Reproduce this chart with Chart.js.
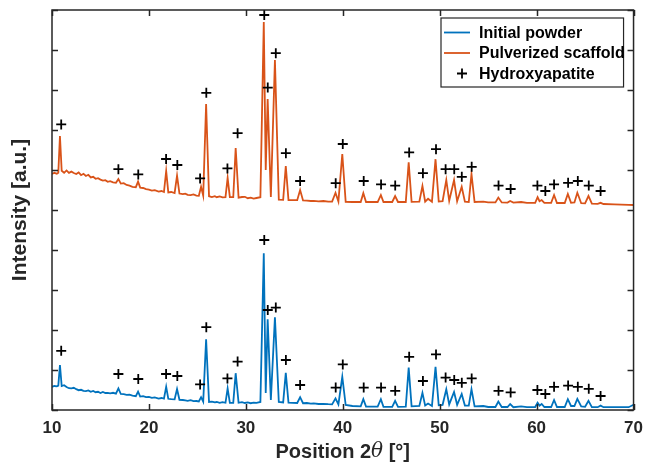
<!DOCTYPE html>
<html>
<head>
<meta charset="utf-8">
<script src="https://cdn.jsdelivr.net/npm/chart.js@4.4.1/dist/chart.umd.min.js"></script>
<style>
  html, body { margin: 0; padding: 0; background: #fff; }
  canvas { display: block; }
</style>
</head>
<body>
<canvas id="xrdChart" width="651" height="464"></canvas>
<script>
  // 2-theta positions (deg) shared by both patterns
  const twoTheta = [
    10.0, 10.25, 10.5, 10.65, 10.82, 11.0, 11.25, 11.5, 11.75, 12.0,
    12.25, 12.5, 12.75, 13.0, 13.25, 13.5, 13.75, 14.0, 14.25, 14.5,
    14.75, 15.0, 15.25, 15.5, 15.75, 16.0, 16.3, 16.6, 16.85, 17.1,
    17.4, 17.7, 18.0, 18.3, 18.65, 18.88, 19.1, 19.4, 19.7, 20.0,
    20.3, 20.6, 21.0, 21.3, 21.55, 21.78, 22.0, 22.3, 22.65, 22.9,
    23.15, 23.5, 23.75, 24.0, 24.3, 24.6, 24.9, 25.15, 25.38, 25.6,
    25.9, 26.2, 26.5, 26.8, 27.0, 27.3, 27.6, 27.9, 28.12, 28.35,
    28.7, 28.95, 29.25, 29.6, 29.9, 30.2, 30.5, 30.8, 31.1, 31.5,
    31.85, 32.05, 32.25, 32.58, 33.0, 33.4, 33.85, 34.12, 34.4, 35.3,
    35.6, 35.9, 36.3, 36.7, 37.0, 37.5, 38.0, 38.5, 38.9, 39.25,
    39.55, 39.95, 40.3, 41.0, 41.85, 42.12, 42.4, 43.6, 43.93, 44.2,
    45.1, 45.4, 45.7, 46.5, 46.8, 47.1, 47.9, 48.22, 48.5, 48.8,
    49.2, 49.57, 49.9, 50.3, 50.68, 50.98, 51.48, 51.8, 52.27, 52.6,
    53.0, 53.28, 53.6, 54.5, 55.0, 55.75, 56.05, 56.4, 57.0, 57.27,
    57.6, 58.4, 59.0, 59.85, 60.1, 60.3, 60.52, 60.8, 61.5, 61.8,
    62.1, 62.9, 63.22, 63.55, 63.9, 64.2, 64.6, 65.0, 65.35, 65.7,
    66.3, 66.6, 66.9, 68.0, 69.5, 70.0
  ];

  // Initial powder (blue)
  const initialPowder = [
    580, 600, 590, 610, 1125, 600, 620, 575, 545, 540,
    555, 520, 495, 505, 480, 470, 490, 455, 475, 445,
    455, 425, 450, 425, 430, 415, 430, 410, 540, 400,
    395, 380, 385, 360, 345, 460, 335, 345, 320, 325,
    305, 315, 285, 300, 285, 580, 280, 270, 265, 525,
    255, 250, 240, 230, 245, 220, 225, 215, 320, 210,
    1770, 200, 210, 190, 200, 180, 195, 180, 540, 180,
    180, 920, 180, 195, 175, 190, 170, 185, 180, 200,
    3920, 425, 2270, 250, 2320, 200, 190, 930, 185, 175,
    320, 170, 175, 160, 165, 150, 155, 145, 140, 290,
    140, 830, 125, 100, 90, 270, 85, 85, 270, 80,
    80, 230, 80, 85, 1060, 90, 100, 430, 110, 160,
    100, 1080, 120, 130, 520, 140, 450, 130, 400, 110,
    110, 520, 90, 100, 75, 75, 210, 75, 75, 150,
    70, 90, 70, 75, 180, 110, 150, 75, 75, 250,
    75, 75, 270, 100, 100, 280, 90, 80, 230, 70,
    70, 110, 70, 70, 70, 130
  ];

  // Pulverized scaffold (orange)
  const pulverizedScaffold = [
    5900, 5930, 5905, 5930, 6850, 5980, 5930, 5990, 5930, 5960,
    5925, 5900, 5940, 5870, 5905, 5850, 5880, 5815, 5830, 5780,
    5795, 5760, 5735, 5745, 5705, 5720, 5690, 5680, 5775, 5660,
    5670, 5625, 5610, 5580, 5570, 5710, 5560, 5550, 5520, 5510,
    5485, 5495, 5460, 5475, 5450, 5975, 5440, 5450, 5425, 5860,
    5410, 5395, 5410, 5380, 5370, 5390, 5360, 5355, 5580, 5360,
    7650, 5345, 5325, 5345, 5320, 5340, 5315, 5320, 5800, 5320,
    5320, 6550, 5310, 5325, 5330, 5295, 5310, 5285, 5300, 5320,
    9700, 6000, 7775, 5325, 8750, 5260, 5255, 6100, 5250, 5245,
    5500, 5240, 5235, 5225, 5230, 5215, 5225, 5210, 5210, 5430,
    5210, 6400, 5205, 5200, 5200, 5420, 5200, 5200, 5375, 5200,
    5200, 5350, 5200, 5200, 6190, 5205, 5210, 5600, 5210, 5280,
    5205, 6270, 5210, 5220, 5750, 5230, 5750, 5220, 5580, 5210,
    5200, 5900, 5200, 5210, 5190, 5190, 5310, 5190, 5185, 5225,
    5185, 5200, 5180, 5180, 5320, 5220, 5250, 5180, 5180, 5375,
    5175, 5175, 5400, 5180, 5190, 5430, 5170, 5165, 5350, 5160,
    5155, 5180, 5150, 5140, 5130, 5125
  ];

  // Hydroxyapatite reference markers
  const haAngles = [
    10.95, 16.85, 18.9, 21.77, 22.93, 25.28, 25.92, 28.1, 29.15, 31.9,
    32.26, 33.09, 34.13, 35.6, 39.27, 40.0, 42.16, 43.95, 45.41, 46.85,
    48.27, 49.62, 50.61, 51.5, 52.28, 53.3, 56.07, 57.32, 60.08, 60.9,
    61.8, 63.25, 64.25, 65.38, 66.6
  ];
  const haInitial = [
    1480, 900, 775, 900, 850, 640, 2070, 790, 1210, 4250,
    2500, 2560, 1250, 625, 560, 1140, 560, 560, 480, 1330,
    725, 1390, 810, 750, 680, 790, 480, 440, 500, 400,
    580, 610, 580, 530, 350
  ];
  const haScaffold = [
    7140, 6020, 5890, 6275, 6125, 5790, 7930, 6040, 6920, 9875,
    8060, 8920, 6420, 5725, 5670, 6650, 5725, 5640, 5610, 6440,
    5920, 6520, 6020, 6020, 5830, 6080, 5610, 5525, 5610, 5475,
    5640, 5680, 5725, 5610, 5475
  ];

  const xTicks = [10, 20, 30, 40, 50, 60, 70];
  const yTicks = [0, 1000, 2000, 3000, 4000, 5000, 6000, 7000, 8000, 9000, 10000];

  const axisColor = '#262626';
  const sans = "'Liberation Sans', Arial, sans-serif";

  const toPoints = (xs, ys) => xs.map((x, i) => ({ x: x, y: ys[i] }));

  // MATLAB style box with inward ticks on all four sides
  const boxTicks = {
    id: 'boxTicks',
    afterDatasetsDraw(chart) {
      const { ctx, chartArea: a, scales: { x, y } } = chart;
      const len = 6;
      ctx.save();
      ctx.strokeStyle = axisColor;
      ctx.lineWidth = 1.5;
      ctx.beginPath();
      x.ticks.forEach(t => {
        const px = Math.round(x.getPixelForValue(t.value)) + 0.5;
        ctx.moveTo(px, a.bottom); ctx.lineTo(px, a.bottom - len);
        ctx.moveTo(px, a.top); ctx.lineTo(px, a.top + len);
      });
      y.ticks.forEach(t => {
        const py = Math.round(y.getPixelForValue(t.value)) + 0.5;
        ctx.moveTo(a.left, py); ctx.lineTo(a.left + len, py);
        ctx.moveTo(a.right, py); ctx.lineTo(a.right - len, py);
      });
      ctx.stroke();
      ctx.strokeRect(a.left, a.top, a.right - a.left, a.bottom - a.top);
      ctx.restore();
    }
  };

  // x axis label with an italic theta
  const xLabel = {
    id: 'xLabel',
    afterDraw(chart) {
      const { ctx, chartArea: a } = chart;
      const parts = [
        { text: 'Position 2', font: 'bold 20px ' + sans },
        { text: '\u03B8', font: "italic 20px 'DejaVu Serif', serif" },
        { text: ' [\u00B0]', font: 'bold 20px ' + sans }
      ];
      ctx.save();
      ctx.fillStyle = axisColor;
      ctx.textBaseline = 'middle';
      let total = 0;
      parts.forEach(p => { ctx.font = p.font; p.w = ctx.measureText(p.text).width; total += p.w; });
      let px = (a.left + a.right) / 2 - total / 2;
      parts.forEach(p => { ctx.font = p.font; ctx.fillText(p.text, px, 452); px += p.w; });
      ctx.restore();
    }
  };

  // legend box in the upper right corner of the axes
  const boxLegend = {
    id: 'boxLegend',
    afterDraw(chart) {
      const { ctx, chartArea: a } = chart;
      const ds = chart.data.datasets;
      const bx = 441, by = 18, bw = a.right - 10 - bx, bh = 69;
      ctx.save();
      ctx.fillStyle = '#fff';
      ctx.fillRect(bx, by, bw, bh);
      ctx.strokeStyle = axisColor;
      ctx.lineWidth = 1.2;
      ctx.strokeRect(bx, by, bw, bh);
      ctx.font = 'bold 16px ' + sans;
      ctx.textBaseline = 'middle';
      ds.forEach((d, i) => {
        const cy = by + 14.5 + i * 20.5;
        ctx.strokeStyle = d.borderColor;
        ctx.lineWidth = 1.8;
        ctx.beginPath();
        if (d.showLine === false) {
          ctx.moveTo(bx + 16, cy); ctx.lineTo(bx + 26, cy);
          ctx.moveTo(bx + 21, cy - 5); ctx.lineTo(bx + 21, cy + 5);
        } else {
          ctx.moveTo(bx + 3, cy); ctx.lineTo(bx + 29, cy);
        }
        ctx.stroke();
        ctx.fillStyle = '#000';
        ctx.fillText(d.label, bx + 38, cy + 1);
      });
      ctx.restore();
    }
  };

  const ctx = document.getElementById('xrdChart').getContext('2d');
  const xrdChart = new Chart(ctx, {
    type: 'line',
    data: {
      datasets: [
        {
          label: 'Initial powder',
          data: toPoints(twoTheta, initialPowder),
          borderColor: '#0072BD',
          borderWidth: 1.8,
          pointRadius: 0,
          tension: 0,
          order: 2
        },
        {
          label: 'Pulverized scaffold',
          data: toPoints(twoTheta, pulverizedScaffold),
          borderColor: '#D95319',
          borderWidth: 1.8,
          pointRadius: 0,
          tension: 0,
          order: 1
        },
        {
          label: 'Hydroxyapatite',
          data: toPoints(haAngles, haInitial).concat(toPoints(haAngles, haScaffold)),
          showLine: false,
          pointStyle: 'cross',
          pointRadius: 5,
          borderColor: '#000',
          borderWidth: 1.8,
          order: 0
        }
      ]
    },
    options: {
      responsive: false,
      animation: false,
      layout: { padding: { top: 10, right: 11, left: 0, bottom: 0 } },
      plugins: {
        legend: { display: false },
        tooltip: { enabled: false }
      },
      scales: {
        x: {
          type: 'linear',
          min: 10,
          max: 70,
          afterBuildTicks: s => { s.ticks = xTicks.map(v => ({ value: v })); },
          afterFit: s => { s.height = 54; },
          grid: { display: false, drawTicks: false },
          border: { display: false },
          ticks: {
            autoSkip: false,
            maxRotation: 0,
            padding: 8,
            color: axisColor,
            font: { family: sans, size: 17, weight: 'bold' }
          }
        },
        y: {
          type: 'linear',
          min: 0,
          max: 10000,
          afterBuildTicks: s => { s.ticks = yTicks.map(v => ({ value: v })); },
          afterFit: s => { s.width = 52; },
          grid: { display: false, drawTicks: false },
          border: { display: false },
          ticks: { display: false },
          title: {
            display: true,
            text: 'Intensity [a.u.]',
            color: axisColor,
            padding: { top: 8, bottom: 0 },
            font: { family: sans, size: 21, weight: 'bold' }
          }
        }
      }
    },
    plugins: [boxTicks, xLabel, boxLegend]
  });
</script>
</body>
</html>
